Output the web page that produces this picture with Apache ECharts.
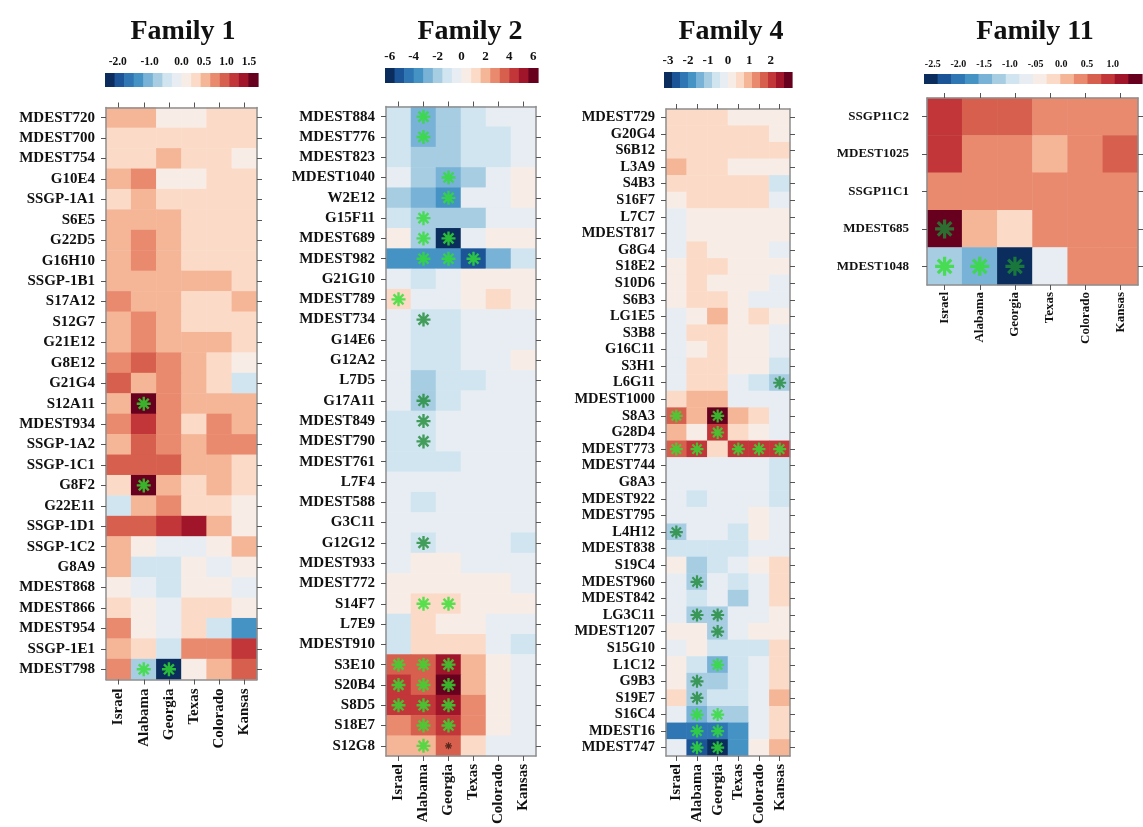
<!DOCTYPE html>
<html>
<head>
<meta charset="utf-8">
<script src="https://cdn.jsdelivr.net/npm/echarts@6/dist/echarts.min.js"></script>
<style>
  html, body { margin: 0; padding: 0; background: #fff; }
  #chart { width: 1143px; height: 827px; }
</style>
</head>
<body>
<div id="chart"></div>
<script>
// ---- data -------------------------------------------------------------
const states = ['Israel', 'Alabama', 'Georgia', 'Texas', 'Colorado', 'Kansas'];

// Family 1
const fam1Markers = ['MDEST720','MDEST700','MDEST754','G10E4','SSGP-1A1','S6E5','G22D5','G16H10','SSGP-1B1','S17A12','S12G7','G21E12','G8E12','G21G4','S12A11','MDEST934','SSGP-1A2','SSGP-1C1','G8F2','G22E11','SSGP-1D1','SSGP-1C2','G8A9','MDEST868','MDEST866','MDEST954','SSGP-1E1','MDEST798'];
const fam1Values = [
  [0.55, 0.52, 0.08, 0.10, 0.30, 0.32],
  [0.31, 0.30, 0.32, 0.29, 0.30, 0.28],
  [0.30, 0.30, 0.55, 0.30, 0.30, 0.10],
  [0.53, 0.78, 0.10, 0.10, 0.30, 0.30],
  [0.30, 0.52, 0.32, 0.30, 0.30, 0.30],
  [0.54, 0.52, 0.50, 0.30, 0.30, 0.30],
  [0.53, 0.76, 0.52, 0.30, 0.30, 0.30],
  [0.53, 0.76, 0.52, 0.30, 0.30, 0.30],
  [0.53, 0.55, 0.52, 0.50, 0.50, 0.30],
  [0.75, 0.53, 0.52, 0.30, 0.30, 0.55],
  [0.53, 0.75, 0.52, 0.30, 0.30, 0.30],
  [0.52, 0.75, 0.55, 0.52, 0.50, 0.30],
  [0.75, 0.95, 0.76, 0.50, 0.25, 0.05],
  [0.96, 0.50, 0.76, 0.50, 0.25, -0.35],
  [0.52, 1.60, 0.75, 0.52, 0.52, 0.50],
  [0.75, 1.18, 0.76, 0.30, 0.75, 0.52],
  [0.52, 0.95, 0.75, 0.53, 0.75, 0.76],
  [0.95, 0.96, 0.95, 0.52, 0.52, 0.30],
  [0.30, 1.62, 0.53, 0.25, 0.52, 0.30],
  [-0.40, 0.52, 0.76, 0.30, 0.30, 0.10],
  [0.95, 0.96, 1.17, 1.40, 0.53, 0.10],
  [0.53, 0.10, -0.12, -0.12, 0.10, 0.55],
  [0.53, -0.42, -0.42, 0.10, -0.10, 0.10],
  [0.10, -0.10, -0.40, 0.10, 0.10, -0.10],
  [0.30, 0.10, -0.10, 0.30, 0.30, 0.10],
  [0.76, 0.10, -0.12, 0.30, -0.42, -1.35],
  [0.53, 0.30, -0.42, 0.76, 0.76, 1.17],
  [0.76, -0.78, -2.25, 0.10, 0.53, 0.95]
];
const fam1Stars = [['S12A11','Alabama'], ['G8F2','Alabama'], ['MDEST798','Alabama'], ['MDEST798','Georgia']];
const fam1StarsDark = [];
const fam1StarsSmall = [];
const fam1Range = { min: -2.4, mid: 0, max: 1.7 };
const fam1TickValues = [-2, -1, 0, 0.5, 1, 1.5];
const fam1TickLabels = ['-2.0', '-1.0', '0.0', '0.5', '1.0', '1.5'];

// Family 2
const fam2Markers = ['MDEST884','MDEST776','MDEST823','MDEST1040','W2E12','G15F11','MDEST689','MDEST982','G21G10','MDEST789','MDEST734','G14E6','G12A2','L7D5','G17A11','MDEST849','MDEST790','MDEST761','L7F4','MDEST588','G3C11','G12G12','MDEST933','MDEST772','S14F7','L7E9','MDEST910','S3E10','S20B4','S8D5','S18E7','S12G8'];
const fam2Values = [
  [-1.2, -2.8, -2.0, -1.1, -0.4, -0.3],
  [-1.2, -2.9, -2.0, -1.2, -1.1, -0.4],
  [-1.1, -2.0, -2.1, -1.2, -1.0, -0.4],
  [-0.4, -2.0, -3.0, -2.0, -0.3, 0.4],
  [-2.2, -2.8, -3.7, -0.4, -0.3, 0.3],
  [-1.2, -2.0, -2.1, -2.0, -0.4, -0.4],
  [0.4, -2.1, -6.0, -0.4, 0.3, 0.3],
  [-3.6, -3.5, -3.7, -5.3, -2.8, -1.2],
  [-0.4, -1.2, -0.4, 0.3, 0.3, 0.3],
  [1.2, -0.4, -0.4, 0.3, 1.2, 0.4],
  [-0.4, -1.2, -1.1, -0.4, -0.4, -0.4],
  [-0.4, -1.2, -1.2, -0.4, -0.4, -0.4],
  [-0.4, -1.2, -1.1, -0.4, -0.4, 0.4],
  [-0.4, -2.2, -1.2, -1.1, -0.4, -0.4],
  [-0.4, -2.1, -1.2, -0.4, -0.4, -0.4],
  [-1.2, -1.2, -0.4, -0.4, -0.4, -0.4],
  [-1.1, -1.2, -0.4, -0.4, -0.4, -0.4],
  [-1.2, -1.2, -1.1, -0.4, -0.4, -0.4],
  [-0.4, -0.4, -0.4, -0.4, -0.4, -0.4],
  [-0.4, -1.2, -0.4, -0.4, -0.4, -0.4],
  [-0.4, -0.4, -0.4, -0.4, -0.4, -0.4],
  [-0.4, -1.2, -0.4, -0.4, -0.4, -1.1],
  [-0.4, 0.4, 0.4, -0.4, -0.4, -0.4],
  [0.4, 0.4, 0.4, 0.4, 0.4, -0.4],
  [0.4, 1.2, 1.2, 0.4, 0.4, 0.4],
  [-1.2, 1.2, 0.4, 0.4, -0.4, -0.4],
  [-1.2, 1.2, 1.2, 1.2, -0.4, -1.1],
  [3.6, 3.7, 5.2, 2.0, 0.4, -0.4],
  [4.4, 3.6, 6.0, 2.1, 0.4, -0.4],
  [4.4, 4.5, 5.1, 2.8, 0.4, -0.4],
  [2.8, 3.6, 4.4, 2.9, 0.4, -0.4],
  [2.0, 2.0, 3.6, 1.2, -0.4, -0.4]
];
const fam2Stars = [['MDEST884','Alabama'], ['MDEST776','Alabama'], ['MDEST1040','Georgia'], ['W2E12','Georgia'], ['G15F11','Alabama'], ['MDEST689','Alabama'], ['MDEST689','Georgia'], ['MDEST982','Alabama'], ['MDEST982','Georgia'], ['MDEST982','Texas'], ['MDEST789','Israel'], ['S14F7','Alabama'], ['S14F7','Georgia'], ['S3E10','Israel'], ['S3E10','Alabama'], ['S3E10','Georgia'], ['S20B4','Israel'], ['S20B4','Alabama'], ['S20B4','Georgia'], ['S8D5','Israel'], ['S8D5','Alabama'], ['S8D5','Georgia'], ['S18E7','Alabama'], ['S18E7','Georgia'], ['S12G8','Alabama']];
const fam2StarsDark = [['MDEST734','Alabama'], ['G17A11','Alabama'], ['MDEST849','Alabama'], ['MDEST790','Alabama'], ['G12G12','Alabama']];
const fam2StarsSmall = [['S12G8','Georgia']];
const fam2Range = { min: -6.4, mid: 0, max: 6.4 };
const fam2TickValues = [-6, -4, -2, 0, 2, 4, 6];
const fam2TickLabels = ['-6', '-4', '-2', '0', '2', '4', '6'];

// Family 4
const fam4Markers = ['MDEST729','G20G4','S6B12','L3A9','S4B3','S16F7','L7C7','MDEST817','G8G4','S18E2','S10D6','S6B3','LG1E5','S3B8','G16C11','S3H1','L6G11','MDEST1000','S8A3','G28D4','MDEST773','MDEST744','G8A3','MDEST922','MDEST795','L4H12','MDEST838','S19C4','MDEST960','MDEST842','LG3C11','MDEST1207','S15G10','L1C12','G9B3','S19E7','S16C4','MDEST16','MDEST747'];
const fam4Values = [
  [0.55, 0.56, 0.58, 0.20, 0.18, 0.20],
  [0.56, 0.55, 0.57, 0.55, 0.54, 0.20],
  [0.56, 0.55, 0.57, 0.55, 0.54, 0.55],
  [0.95, 0.56, 0.55, 0.20, 0.20, 0.18],
  [0.56, 0.55, 0.57, 0.55, 0.54, -0.60],
  [0.20, 0.56, 0.55, 0.55, 0.56, -0.20],
  [-0.20, 0.20, 0.18, 0.20, 0.20, 0.18],
  [-0.20, 0.20, 0.20, 0.20, 0.20, 0.20],
  [-0.20, 0.55, 0.20, 0.20, 0.20, -0.20],
  [0.20, 0.56, 0.55, 0.20, 0.20, 0.20],
  [0.20, 0.55, 0.20, 0.20, 0.20, -0.20],
  [0.20, 0.55, 0.56, 0.20, -0.20, -0.20],
  [-0.20, 0.20, 0.95, 0.20, 0.56, 0.20],
  [-0.20, 0.56, 0.55, 0.20, 0.20, -0.20],
  [-0.20, 0.20, 0.55, 0.20, 0.20, -0.20],
  [-0.20, 0.55, 0.56, 0.20, 0.20, -0.60],
  [-0.20, 0.55, 0.56, -0.20, -0.60, -1.00],
  [0.56, 0.95, 0.94, -0.20, -0.20, -0.20],
  [1.70, 0.95, 2.82, 0.95, 0.56, -0.20],
  [0.95, 0.20, 2.07, 0.56, 0.20, -0.20],
  [1.70, 2.07, 0.56, 2.06, 2.08, 2.07],
  [-0.20, -0.20, -0.20, -0.20, -0.20, -0.60],
  [-0.20, -0.20, -0.20, -0.20, -0.20, -0.60],
  [-0.20, -0.60, -0.20, -0.20, -0.20, -0.60],
  [-0.20, -0.20, -0.20, -0.20, 0.20, -0.20],
  [-1.00, -0.20, -0.20, -0.60, 0.20, -0.20],
  [-0.60, -0.60, -0.60, -0.60, -0.20, -0.20],
  [0.20, -1.00, -0.60, -0.20, 0.20, 0.56],
  [-0.20, -1.00, -0.20, -0.60, -0.20, 0.56],
  [-0.20, -0.60, -0.20, -1.00, -0.20, 0.56],
  [-0.20, -1.00, -1.00, -0.20, -0.20, 0.20],
  [0.20, 0.20, -1.00, -0.20, 0.20, 0.20],
  [-0.20, 0.20, -0.60, -0.60, -0.60, 0.56],
  [0.20, -0.60, -1.40, -0.60, -0.20, 0.56],
  [0.20, -1.00, -1.00, -0.60, -0.20, 0.56],
  [0.56, -1.00, -0.60, -0.60, -0.20, 0.95],
  [-0.20, -1.40, -1.00, -1.00, -0.20, 0.56],
  [-2.20, -2.20, -2.20, -1.80, -0.20, 0.56],
  [-0.20, -2.60, -3.00, -1.80, 0.20, 0.95]
];
const fam4Stars = [['S8A3','Israel'], ['S8A3','Georgia'], ['G28D4','Georgia'], ['MDEST773','Israel'], ['MDEST773','Alabama'], ['MDEST773','Texas'], ['MDEST773','Colorado'], ['MDEST773','Kansas'], ['L1C12','Georgia'], ['S16C4','Alabama'], ['S16C4','Georgia'], ['MDEST16','Alabama'], ['MDEST16','Georgia'], ['MDEST747','Alabama'], ['MDEST747','Georgia']];
const fam4StarsDark = [['L6G11','Kansas'], ['L4H12','Israel'], ['MDEST960','Alabama'], ['LG3C11','Alabama'], ['LG3C11','Georgia'], ['MDEST1207','Georgia'], ['G9B3','Alabama'], ['S19E7','Alabama']];
const fam4StarsSmall = [];
const fam4Range = { min: -3.2, mid: 0, max: 3.0 };
const fam4TickValues = [-3, -2, -1, 0, 1, 2];
const fam4TickLabels = ['-3', '-2', '-1', '0', '1', '2'];

// Family 11
const fam11Markers = ['SSGP11C2','MDEST1025','SSGP11C1','MDEST685','MDEST1048'];
const fam11Values = [
  [0.92, 0.64, 0.65, 0.38, 0.37, 0.39],
  [0.90, 0.38, 0.40, 0.12, 0.38, 0.64],
  [0.38, 0.39, 0.38, 0.36, 0.38, 0.40],
  [1.45, 0.11, -0.20, 0.37, 0.38, 0.38],
  [-1.20, -1.48, -2.55, -0.68, 0.38, 0.38]
];
const fam11Stars = [['MDEST1048','Israel'], ['MDEST1048','Alabama']];
const fam11StarsDark = [['MDEST685','Israel'], ['MDEST1048','Georgia']];
const fam11StarsSmall = [];
const fam11Range = { min: -2.67, mid: -0.55, max: 1.57 };
const fam11TickValues = [-2.5, -2.0, -1.5, -1.0, -0.5, 0.0, 0.5, 1.0];
const fam11TickLabels = ['-2.5', '-2.0', '-1.5', '-1.0', '-.05', '0.0', '0.5', '1.0'];

// ---- styling ----------------------------------------------------------
// 16-step diverging blue-white-red ramp
const palette = ['#0a2d5d','#1b5598','#2e76b4','#4592c4','#78b2d6','#a7cde3','#d1e5f0','#e7edf2',
                 '#f8ece6','#fbdbc8','#f5b698','#e98a6f','#d6604d','#c23539','#a0152a','#67001f'];
const SERIF = 'Liberation Serif';
const STAR_PATH = 'path://M-1.7,-10 L1.7,-10 L1.7,10 L-1.7,10 Z M-10,-1.7 L10,-1.7 L10,1.7 L-10,1.7 Z ' +
  'M5.9,8.3 L-8.3,-5.9 L-5.9,-8.3 L8.3,5.9 Z M8.3,-5.9 L-5.9,8.3 L-8.3,5.9 L5.9,-8.3 Z';

const panels = [
  { title: 'Family 1', markers: fam1Markers, values: fam1Values, stars: fam1Stars, starsDark: fam1StarsDark, starsSmall: fam1StarsSmall,
    range: fam1Range, ticks: fam1TickValues, tickLabels: fam1TickLabels,
    layout: { plot: [106, 107.5, 151, 572], bar: [105, 73, 153, 14], titleX: 178, yFont: 15, xFont: 15, barFont: 11.5, star: 14, yMargin: 11, xMargin: 9 } },
  { title: 'Family 2', markers: fam2Markers, values: fam2Values, stars: fam2Stars, starsDark: fam2StarsDark, starsSmall: fam2StarsSmall,
    range: fam2Range, ticks: fam2TickValues, tickLabels: fam2TickLabels,
    layout: { plot: [386, 106.5, 150, 654], bar: [385, 68, 153, 15], titleX: 465, yFont: 15, xFont: 15, barFont: 13, star: 14, yMargin: 11, xMargin: 8 } },
  { title: 'Family 4', markers: fam4Markers, values: fam4Values, stars: fam4Stars, starsDark: fam4StarsDark, starsSmall: fam4StarsSmall,
    range: fam4Range, ticks: fam4TickValues, tickLabels: fam4TickLabels,
    layout: { plot: [666, 109, 124, 652], bar: [664, 72, 128, 16], titleX: 726, yFont: 14.5, xFont: 15, barFont: 13, star: 13, yMargin: 11, xMargin: 8 } },
  { title: 'Family 11', markers: fam11Markers, values: fam11Values, stars: fam11Stars, starsDark: fam11StarsDark, starsSmall: fam11StarsSmall,
    range: fam11Range, ticks: fam11TickValues, tickLabels: fam11TickLabels,
    layout: { plot: [927, 98, 211, 187], bar: [924, 74, 218, 10], titleX: 1030, yFont: 13, xFont: 13, barFont: 10, star: 19, yMargin: 18, xMargin: 7 } }
];

// Two-sided linear scale: 8 equal bins below the mid point, 8 above it.
function makeScale(r) {
  const lo = (r.mid - r.min) / 8, hi = (r.max - r.mid) / 8;
  const edge = i => i <= 8 ? r.min + i * lo : r.mid + (i - 8) * hi;
  return {
    toBar: v => v < r.mid ? 8 * (v - r.min) / (r.mid - r.min) : 8 + 8 * (v - r.mid) / (r.max - r.mid),
    pieces: palette.map((c, i) => i === 15 ? { gte: edge(i), lte: edge(i + 1) + 1e-9, color: c }
                                           : { gte: edge(i), lt: edge(i + 1), color: c })
  };
}

const option = {
  animation: false,
  backgroundColor: '#ffffff',
  textStyle: { fontFamily: SERIF },
  title: [], grid: [], xAxis: [], yAxis: [], visualMap: [], series: []
};

const frameLine = { show: true, lineStyle: { color: '#8e8e8e', width: 1.5 } };
const tickStyle = { show: true, interval: 0, alignWithLabel: true, length: 5, lineStyle: { color: '#555', width: 1 } };

panels.forEach(p => {
  const L = p.layout;
  const sc = makeScale(p.range);

  option.title.push({
    text: p.title, left: L.titleX, top: 13, textAlign: 'center',
    textStyle: { fontFamily: SERIF, fontWeight: 'bold', fontSize: 28, color: '#111' }
  });

  // heat-map grid
  const gPlot = option.grid.length;
  option.grid.push({ left: L.plot[0], top: L.plot[1], width: L.plot[2], height: L.plot[3] });
  // colour-key grid
  const gBar = option.grid.length;
  option.grid.push({ left: L.bar[0], top: L.bar[1], width: L.bar[2], height: L.bar[3] });

  const xBottom = option.xAxis.length;
  option.xAxis.push({
    gridIndex: gPlot, type: 'category', data: states, position: 'bottom', z: 5,
    axisLine: frameLine, axisTick: tickStyle, splitLine: { show: false },
    axisLabel: { interval: 0, rotate: 90, margin: L.xMargin, fontFamily: SERIF, fontWeight: 'bold', fontSize: L.xFont, color: '#111' }
  });
  option.xAxis.push({
    gridIndex: gPlot, type: 'category', data: states, position: 'top', z: 5,
    axisLine: frameLine, axisTick: tickStyle, axisLabel: { show: false, interval: 0 }, splitLine: { show: false }
  });
  const yLeft = option.yAxis.length;
  option.yAxis.push({
    gridIndex: gPlot, type: 'category', data: p.markers, inverse: true, position: 'left', z: 5,
    axisLine: frameLine, axisTick: tickStyle, splitLine: { show: false },
    axisLabel: { interval: 0, margin: L.yMargin, fontFamily: SERIF, fontWeight: 'bold', fontSize: L.yFont, color: '#111' }
  });
  option.yAxis.push({
    gridIndex: gPlot, type: 'category', data: p.markers, inverse: true, position: 'right', z: 5,
    axisLine: frameLine, axisTick: tickStyle, axisLabel: { show: false, interval: 0 }, splitLine: { show: false }
  });

  // colour-key axes
  const tickPos = p.ticks.map(sc.toBar);
  const xBar = option.xAxis.length;
  option.xAxis.push({
    gridIndex: gBar, type: 'value', min: 0, max: 16, position: 'top',
    axisLine: { show: false }, splitLine: { show: false },
    axisTick: { show: true, length: 3, customValues: tickPos, lineStyle: { color: '#333' } },
    axisLabel: {
      customValues: tickPos, margin: 5, fontFamily: SERIF, fontWeight: 'bold', fontSize: L.barFont, color: '#111',
      formatter: v => { const i = tickPos.findIndex(t => Math.abs(t - v) < 1e-6); return i >= 0 ? p.tickLabels[i] : ''; }
    }
  });
  const yBar = option.yAxis.length;
  option.yAxis.push({ gridIndex: gBar, type: 'value', min: 0, max: 1, show: false });

  // cells
  const data = [];
  p.markers.forEach((m, r) => p.values[r].forEach((v, c) => data.push([states[c], m, v])));
  const heatIdx = option.series.length;
  option.series.push({
    type: 'heatmap', xAxisIndex: xBottom, yAxisIndex: yLeft, data: data,
    itemStyle: { borderWidth: 0 }, emphasis: { disabled: true }, progressive: 0
  });
  option.visualMap.push({
    type: 'piecewise', show: false, dimension: 2, seriesIndex: heatIdx, pieces: sc.pieces,
    outOfRange: { color: '#ffffff' }
  });

  // significance asterisks
  const addStars = (list, color, size) => {
    if (!list.length) return;
    option.series.push({
      type: 'scatter', xAxisIndex: xBottom, yAxisIndex: yLeft, z: 4, silent: true,
      symbol: STAR_PATH, symbolSize: size, itemStyle: { color: color },
      data: list.map(s => [s[1], s[0]])
    });
  };
  addStars(p.stars, '#30e030', L.star);
  addStars(p.starsDark, '#1e8a34', L.star);
  addStars(p.starsSmall, '#3a1a12', Math.round(L.star * 0.5));

  // colour key: one block per palette step
  option.series.push({
    type: 'custom', xAxisIndex: xBar, yAxisIndex: yBar, silent: true,
    data: palette.map((c, i) => [i, i + 1, i]),
    renderItem: (params, api) => {
      const a = api.coord([api.value(0), 1]);
      const b = api.coord([api.value(1), 0]);
      return { type: 'rect', shape: { x: a[0], y: a[1], width: b[0] - a[0] + 0.6, height: b[1] - a[1] },
               style: { fill: palette[api.value(2)] } };
    }
  });
});

const chart = echarts.init(document.getElementById('chart'), null, { renderer: 'canvas' });
chart.setOption(option);
</script>
</body>
</html>
